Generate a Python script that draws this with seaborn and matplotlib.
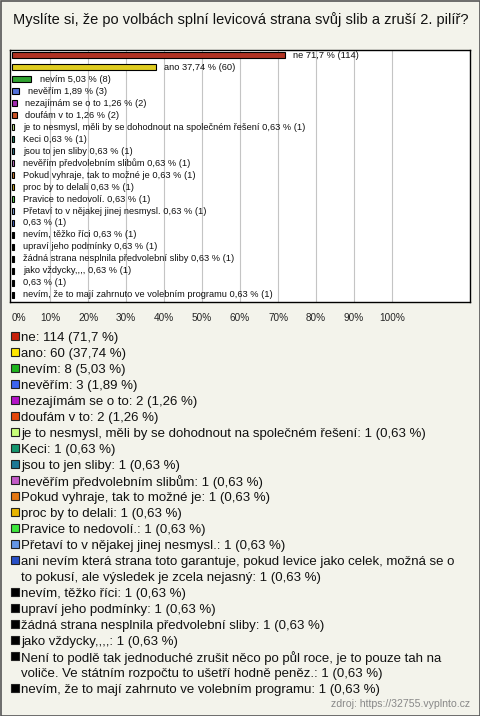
import textwrap
import matplotlib
matplotlib.use("Agg")
import matplotlib.pyplot as plt
from matplotlib.patches import Rectangle
import seaborn as sns
import pandas as pd

# ---------------- data ----------------
title = "Myslíte si, že po volbách splní levicová strana svůj slib a zruší 2. pilíř?"
source = "zdroj: https://32755.vyplnto.cz"

labels = [
    "ne", "ano", "nevím", "nevěřím", "nezajímám se o to", "doufám v to",
    "je to nesmysl, měli by se dohodnout na společném řešení", "Keci",
    "jsou to jen sliby", "nevěřím předvolebním slibům",
    "Pokud vyhraje, tak to možné je", "proc by to delali",
    "Pravice to nedovolí.", "Přetaví to v nějakej jinej nesmysl.",
    "ani nevím která strana toto garantuje, pokud levice jako celek, možná se o to pokusí, ale výsledek je zcela nejasný",
    "nevím, těžko říci", "upraví jeho podmínky",
    "žádná strana nesplnila předvolební sliby", "jako vždycky,,,,",
    "Není to podlě tak jednoduché zrušit něco po půl roce, je to pouze tah na voliče. Ve státním rozpočtu to ušetří hodně peněz.",
    "nevím, že to mají zahrnuto ve volebním programu",
]
counts = [114, 60, 8, 3, 2, 2, 1, 1, 1, 1, 1, 1, 1, 1, 1, 1, 1, 1, 1, 1, 1]
percents = [71.7, 37.74, 5.03, 1.89, 1.26, 1.26, 0.63, 0.63, 0.63, 0.63, 0.63,
            0.63, 0.63, 0.63, 0.63, 0.63, 0.63, 0.63, 0.63, 0.63, 0.63]
colors = ["#c8200a", "#ffe600", "#1db51d", "#3c64f0", "#b414c8", "#e6460a",
          "#c8ff78", "#14966e", "#1e7896", "#c35ac8", "#e67814", "#e6b400",
          "#3ce63c", "#6496e6", "#2850c8", "#000000", "#000000", "#000000",
          "#000000", "#000000", "#000000"]
ticks = [0, 10, 20, 30, 40, 50, 60, 70, 80, 90, 100]


def fmt(p):
    s = f"{p:.2f}".rstrip("0").rstrip(".")
    return s.replace(".", ",")


df = pd.DataFrame({"label": labels, "pct": percents, "count": counts})

# ---------------- figure ----------------
W, H, DPI = 480, 716, 100
bg = "#f3f3eb"
sns.set_style("white")
plt.rcParams["font.family"] = ["Liberation Sans", "DejaVu Sans"]

fig = plt.figure(figsize=(W / DPI, H / DPI), dpi=DPI, facecolor=bg)

# overlay in pixel coordinates for texts / legend
ov = fig.add_axes([0, 0, 1, 1], zorder=0)
ov.set_xlim(0, W)
ov.set_ylim(H, 0)
ov.axis("off")
ov.patch.set_alpha(0)
ov.add_patch(Rectangle((0.5, 0.5), W - 1, H - 1, fill=False, ec="#555555", lw=1.2))

# bar axes
L, R, T, B = 10, 470, 50, 302
ax = fig.add_axes([L / W, 1 - B / H, (R - L) / W, (B - T) / H], zorder=2)
sns.barplot(data=df, x="pct", y="label", hue="label", palette=colors,
            orient="h", legend=False, width=0.5, edgecolor="black",
            linewidth=0.8, ax=ax, order=labels, hue_order=labels)
ax.set_facecolor("white")
ax.set_xlim(-0.55, 120.5)
ax.set_ylim(len(labels) - 0.4, -0.45)
ax.set_xticks(ticks)
ax.set_xticklabels([f"{t}%" for t in ticks], fontsize=7.2)
ax.get_xticklabels()[0].set_horizontalalignment("left")
ax.tick_params(axis="x", length=0, pad=8)
ax.set_yticks([])
ax.set_xlabel("")
ax.set_ylabel("")
for t in ticks[1:]:
    ax.axvline(t, color="#c4c4c4", lw=0.8, zorder=0)
ax.set_axisbelow(True)
for s in ax.spines.values():
    s.set_color("black")
    s.set_linewidth(1.0)

for i, (lab, p, c) in enumerate(zip(labels, percents, counts)):
    txt = f"{lab} {fmt(p)} % ({c})" if len(lab) < 90 else f"{fmt(p)} % ({c})"
    ax.annotate(txt, (p, i), xytext=(6, 0), textcoords="offset points",
                va="center", ha="left", fontsize=6.7, color="#111111")

# title
ov.text(W / 2 + 1, 20, title, ha="center", va="center", fontsize=10.5, color="#111111")

# legend
y = 337
for lab, p, c, col in zip(labels, percents, counts, colors):
    full = f"{lab}: {c} ({fmt(p)} %)"
    lines = textwrap.wrap(full, 74)
    ov.add_patch(Rectangle((11, y - 5.5), 8, 8, fc=col, ec="#222222", lw=0.8))
    for ln in lines:
        ov.text(21, y, ln, ha="left", va="center_baseline", fontsize=9.5,
                color="#111111")
        y += 16

ov.text(470, 704, source, ha="right", va="center", fontsize=7.6, color="#888888")

fig.savefig("out.png", dpi=DPI, facecolor=bg)
